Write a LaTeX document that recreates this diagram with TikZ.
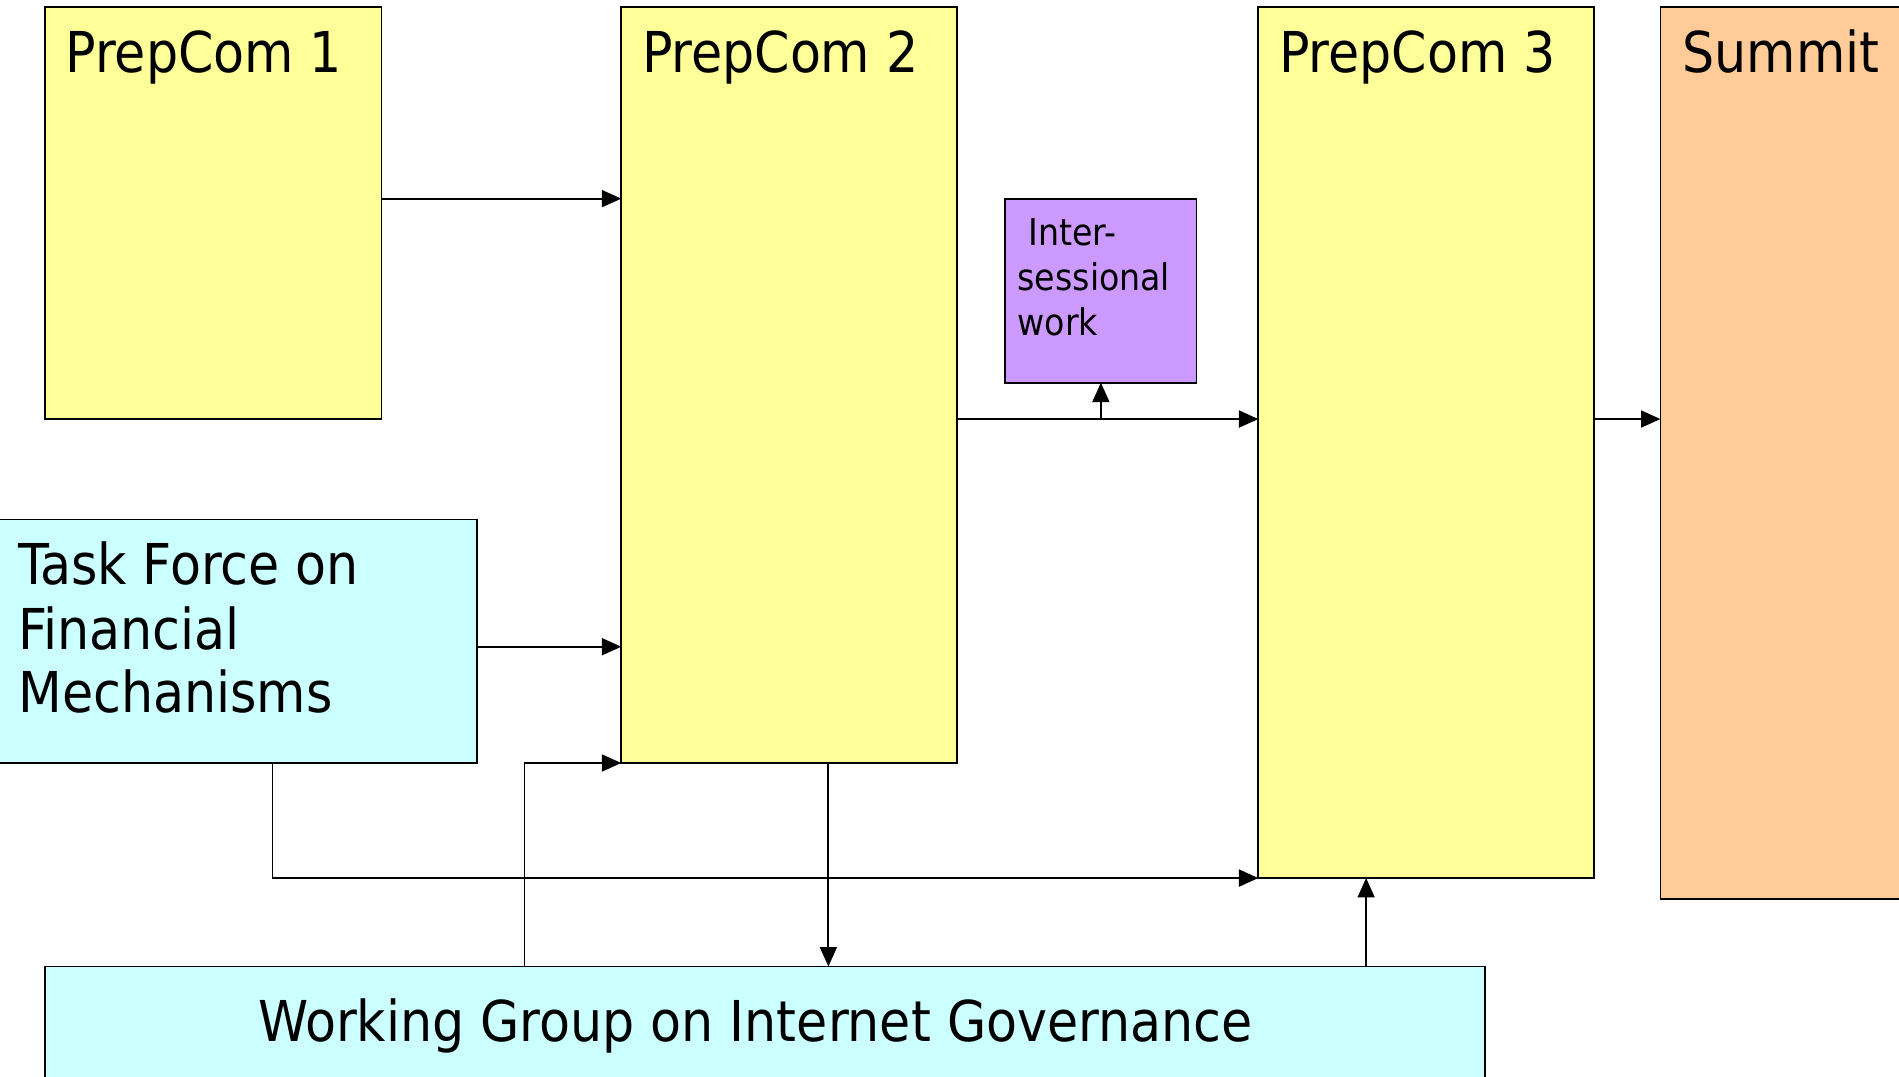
\documentclass[tikz,border=0pt]{standalone}
\usepackage{fontspec}
\setmainfont{DejaVu Sans Condensed}
\usetikzlibrary{arrows.meta}
\definecolor{yel}{HTML}{FFFF99}
\definecolor{cyanbox}{HTML}{CCFFFF}
\definecolor{purp}{HTML}{CC99FF}
\definecolor{orng}{HTML}{FFCC99}
\begin{document}
\begin{tikzpicture}[x=1pt,y=-1pt,
 box/.style={draw=black, line width=1.5pt, inner sep=0pt, outer sep=0pt, anchor=north west},
 big/.style={anchor=base west, inner sep=0pt, font=\fontsize{46.5}{52}\selectfont},
 small/.style={anchor=base west, inner sep=0pt, font=\fontsize{30.5}{37}\selectfont},
 arr/.style={line width=1.5pt, -{Triangle[length=16pt,width=14pt]}}]
\useasboundingbox (0,0) rectangle (1568,889);
\clip (0,0) rectangle (1568,889);
\fill[white] (0,0) rectangle (1568,889);
% boxes
\node[box, fill=yel, minimum width=278pt, minimum height=340pt] (p1) at (37,6) {};
\node[box, fill=yel, minimum width=277pt, minimum height=624pt] (p2) at (513,6) {};
\node[box, fill=yel, minimum width=277pt, minimum height=719pt] (p3) at (1039,6) {};
\node[box, fill=orng, minimum width=260pt, minimum height=736pt] (sum) at (1371,6) {};
\node[box, fill=purp, minimum width=158pt, minimum height=152pt] (inter) at (830,164) {};
\node[box, fill=cyanbox, minimum width=404pt, minimum height=201pt] (tf) at (-10,429) {};
\node[box, fill=cyanbox, minimum width=1189pt, minimum height=120pt] (wg) at (37,798) {};
% texts
\node[big] (t1) at (54,60) {PrepCom 1};
\node[big] (t2) at (530,60) {PrepCom 2};
\node[big] (t3) at (1056,60) {PrepCom 3};
\node[big] (t4) at (1389,60) {Summit};
\node[big] (tf1) at (15,483) {Task Force on};
\node[big] (tf2) at (15,536) {Financial};
\node[big] (tf3) at (15,588) {Mechanisms};
\node[small] (i1) at (849,203) {Inter-};
\node[small] (i2) at (840,240) {sessional};
\node[small] (i3) at (840,277) {work};
\node[big] (tw) at (213,860) {Working Group on Internet Governance};
% connectors
\coordinate (r1) at (0,164);
\coordinate (r2) at (0,346);
\coordinate (r3) at (0,534);
\coordinate (c1) at (225,0);
\coordinate (c2) at (433,0);
\coordinate (c3) at (684,0);
\coordinate (c4) at (1128,0);
\coordinate (c5) at (909,0);
\draw[arr] (p1.east |- r1) -- (p2.west |- r1);
\draw[arr] (p2.east |- r2) -- (p3.west |- r2);
\draw[arr] (c5 |- r2) -- (inter.south);
\draw[arr] (p3.east |- r2) -- (sum.west |- r2);
\draw[arr] (tf.east |- r3) -- (p2.west |- r3);
\draw[arr] (c1 |- tf.south) -- (c1 |- p3.south) -- (p3.south west);
\draw[arr] (c2 |- wg.north) -- (c2 |- p2.south) -- (p2.south west);
\draw[arr] (c3 |- p2.south) -- (c3 |- wg.north);
\draw[arr] (c4 |- wg.north) -- (c4 |- p3.south);
\end{tikzpicture}
\end{document}
